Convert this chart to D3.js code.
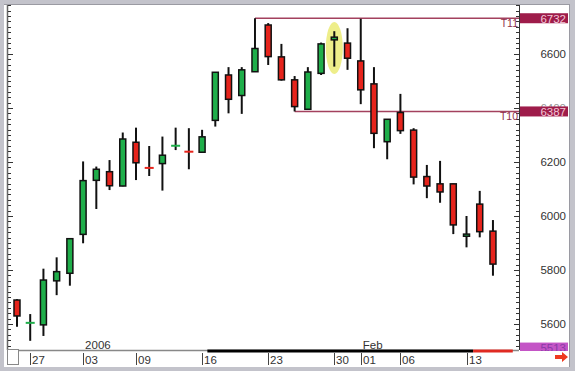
<!DOCTYPE html>
<html>
<head>
<meta charset="utf-8">
<style>
  body { margin: 0; background: #fff; }
  svg { display: block; font-family: "Liberation Sans", Arial, sans-serif; }
</style>
</head>
<body>
<svg width="575" height="371"></svg>
<script src="https://d3js.org/d3.v7.min.js"></script>
<script>
// daily candles, 23 Dec 2005 - 15 Feb 2006
var days  = ["23","27","28","29","30","03","04","05","06","09","10","11","12","13",
             "16","17","18","19","20","23","24","25","26","27","30","31","01","02","03",
             "06","07","08","09","10","13","14","15"];
var open  = [5689,5603,5597,5760,5788,5932,6132,6164,6111,6273,6179,6194,6259,6239,
             6236,6354,6522,6446,6534,6707,6589,6504,6395,6528,6652,6640,6574,6489,6275,
             6383,6318,6146,6119,6119,5925,6044,5944];
var high  = [5692,5637,5805,5847,5917,6202,6183,6207,6309,6327,6259,6294,6327,6325,
             6319,6533,6551,6551,6732,6714,6637,6518,6551,6642,6684,6695,6730,6551,6358,
             6452,6325,6189,6204,6120,6000,6093,5985];
var low   = [5590,5538,5556,5707,5742,5899,6026,6096,6110,6133,6148,6094,6244,6173,
             6235,6331,6380,6378,6533,6559,6501,6387,6393,6522,6553,6541,6414,6251,6210,
             6304,6117,6066,6049,5933,5884,5921,5779];
var close = [5630,5606,5763,5794,5916,6131,6173,6112,6285,6197,6177,6225,6261,6237,
             6293,6532,6432,6541,6620,6590,6504,6405,6533,6637,6662,6584,6467,6306,6358,
             6316,6144,6111,6089,5967,5933,5942,5822];

// labelled days on the time axis (index into days)
var tickIdx = [1,5,9,14,19,24,26,29,34];
var periodLabels = [{i:5, text:"2006"}, {i:26, text:"Feb"}];

// right axis
var yTicks = [5600,5800,6000,6200,6400,6600];
var levels = [{name:"T11", value:6732, from:18}, {name:"T10", value:6387, from:21}];
var lastPrice = 5513;
var highlightIdx = 24;
var scrollBlack = [14.4, 34.5], scrollRed = [34.5, 37.5];

var svg = d3.select("svg");
var pL = 8, pR = 519, pT = 5, pB = 350;

var x = d3.scaleLinear().domain([-0.68, 37.97]).range([pL, pR]);
var y = d3.scaleLinear().domain([5504, 6781]).range([pB, pT]);

var green = "#1fae4a", red = "#e6241c", maroon = "#9e1c4a", lineCol = "#a3415e";

// frame
svg.append("rect").attr("width", 575).attr("height", 371).attr("fill", "#c3c3cb");
svg.append("rect").attr("x", 4).attr("y", 4).attr("width", 566).attr("height", 363).attr("fill", "#fff");
svg.append("line").attr("x1", 569.5).attr("x2", 569.5).attr("y1", 4).attr("y2", 367).attr("stroke", "#9a9aa2");
svg.append("line").attr("x1", 4).attr("x2", 570).attr("y1", 4.5).attr("y2", 4.5).attr("stroke", "#9a9aa2");

// plot borders
svg.append("line").attr("x1", pL - 0.5).attr("x2", pL - 0.5).attr("y1", pT).attr("y2", pB)
  .attr("stroke", "#666").attr("stroke-width", 1.5);
svg.append("line").attr("x1", pR + 0.5).attr("x2", pR + 0.5).attr("y1", pT).attr("y2", pB)
  .attr("stroke", "#333").attr("stroke-width", 1);

// tick marks every 20 points, both sides
var minor = d3.range(5520, 6781, 20);
svg.append("g").selectAll("line").data(minor).enter().append("line")
  .attr("x1", pL).attr("x2", function(d) { return pL + (d % 200 == 0 ? 5 : 3); })
  .attr("y1", function(d) { return Math.round(y(d)) + 0.5; })
  .attr("y2", function(d) { return Math.round(y(d)) + 0.5; })
  .attr("stroke", "#333");
svg.append("g").selectAll("line").data(minor).enter().append("line")
  .attr("x1", pR).attr("x2", function(d) { return pR - (d % 200 == 0 ? 5 : 3); })
  .attr("y1", function(d) { return Math.round(y(d)) + 0.5; })
  .attr("y2", function(d) { return Math.round(y(d)) + 0.5; })
  .attr("stroke", "#333");

// y labels
svg.append("g").selectAll("text").data(yTicks).enter().append("text")
  .attr("x", 566).attr("y", function(d) { return y(d) + 4; })
  .attr("text-anchor", "end").attr("font-size", 11.5)
  .attr("fill", function(d) { return d == 6400 ? "#999" : "#333"; })
  .text(function(d) { return d; });

// highlight
svg.append("ellipse")
  .attr("cx", x(highlightIdx)).attr("cy", y((high[highlightIdx] + low[highlightIdx]) / 2) - 1)
  .attr("rx", 8.5).attr("ry", 26).attr("fill", "#eeee8a");

// T lines
var lv = svg.append("g").selectAll("g").data(levels).enter().append("g");
lv.append("line")
  .attr("x1", function(d) { return x(d.from); }).attr("x2", pR)
  .attr("y1", function(d) { return y(d.value); }).attr("y2", function(d) { return y(d.value); })
  .attr("stroke", lineCol).attr("stroke-width", 1.5);
lv.append("text")
  .attr("x", pR - 1).attr("y", function(d) { return y(d.value) + 9; })
  .attr("text-anchor", "end").attr("font-size", 10.5).attr("fill", "#8e2f4c")
  .text(function(d) { return d.name; });
lv.append("rect")
  .attr("x", pR + 1).attr("y", function(d) { return y(d.value) - 5; })
  .attr("width", 48).attr("height", 10).attr("fill", maroon);
lv.append("text")
  .attr("x", 566).attr("y", function(d) { return y(d.value) + 4.5; })
  .attr("text-anchor", "end").attr("font-size", 11.5).attr("fill", "#f2c6d6")
  .text(function(d) { return d.value; });

// candles
var idx = d3.range(days.length);
var c = svg.append("g").selectAll("g").data(idx).enter().append("g");
c.append("line")
  .attr("x1", function(i) { return x(i); }).attr("x2", function(i) { return x(i); })
  .attr("y1", function(i) { return y(high[i]); }).attr("y2", function(i) { return y(low[i]); })
  .attr("stroke", "#111").attr("stroke-width", 2);
c.filter(function(i) { return Math.abs(open[i] - close[i]) >= 5; })
  .append("rect")
  .attr("x", function(i) { return x(i) - 3; })
  .attr("y", function(i) { return y(Math.max(open[i], close[i])); })
  .attr("width", 6)
  .attr("height", function(i) { return Math.abs(y(open[i]) - y(close[i])); })
  .attr("fill", function(i) { return close[i] >= open[i] ? green : red; })
  .attr("stroke", "#111").attr("stroke-width", 1.5);
c.filter(function(i) { return Math.abs(open[i] - close[i]) < 5; })
  .append("line")
  .attr("x1", function(i) { return x(i) - 4.5; }).attr("x2", function(i) { return x(i) + 4.5; })
  .attr("y1", function(i) { return y((open[i] + close[i]) / 2); })
  .attr("y2", function(i) { return y((open[i] + close[i]) / 2); })
  .attr("stroke", function(i) { return close[i] >= open[i] ? green : red; })
  .attr("stroke-width", 2);

// last price box (cut by the axis strip)
svg.append("clipPath").attr("id", "cutLast").append("rect")
  .attr("x", pR).attr("y", 0).attr("width", 60).attr("height", pB + 1);
var ly = y(lastPrice) - 5;
svg.append("rect").attr("x", pR + 1).attr("y", ly).attr("width", 48)
  .attr("height", Math.min(10, pB + 1 - ly)).attr("fill", "#c455c6");
svg.append("text").attr("x", 566).attr("y", y(lastPrice) + 4.5)
  .attr("text-anchor", "end").attr("font-size", 11.5).attr("fill", "#8a3aa6")
  .attr("clip-path", "url(#cutLast)").text(lastPrice);

// time axis
svg.append("line").attr("x1", pL).attr("x2", pR).attr("y1", pB + 0.5).attr("y2", pB + 0.5)
  .attr("stroke", "#888").attr("stroke-width", 1.5);
svg.append("line").attr("x1", x(scrollBlack[0])).attr("x2", x(scrollBlack[1]))
  .attr("y1", pB + 1).attr("y2", pB + 1).attr("stroke", "#000").attr("stroke-width", 3);
svg.append("line").attr("x1", x(scrollRed[0])).attr("x2", x(scrollRed[1]))
  .attr("y1", pB + 1).attr("y2", pB + 1).attr("stroke", "#e02a22").attr("stroke-width", 3);

var t = svg.append("g").selectAll("g").data(tickIdx).enter().append("g")
  .attr("transform", function(i) { return "translate(" + Math.round(x(i)) + ",0)"; });
t.append("line").attr("x1", 0.5).attr("x2", 0.5).attr("y1", 353).attr("y2", 365).attr("stroke", "#444");
t.append("text").attr("x", 2).attr("y", 364).attr("font-size", 11.5).attr("fill", "#333")
  .text(function(i) { return days[i]; });

svg.append("g").selectAll("text").data(periodLabels).enter().append("text")
  .attr("x", function(d) { return x(d.i) + 2; }).attr("y", 348.5)
  .attr("font-size", 11.5).attr("fill", "#333")
  .text(function(d) { return d.text; });

// little corner box and scroll arrow
svg.append("rect").attr("x", 7.5).attr("y", 349.5).attr("width", 11).attr("height", 15)
  .attr("fill", "#fff").attr("stroke", "#888");
svg.append("path").attr("d", "M555,355 h7 v-3 l6,5 l-6,5 v-3 h-7 z").attr("fill", "#ee3a20");
</script>
</body>
</html>
